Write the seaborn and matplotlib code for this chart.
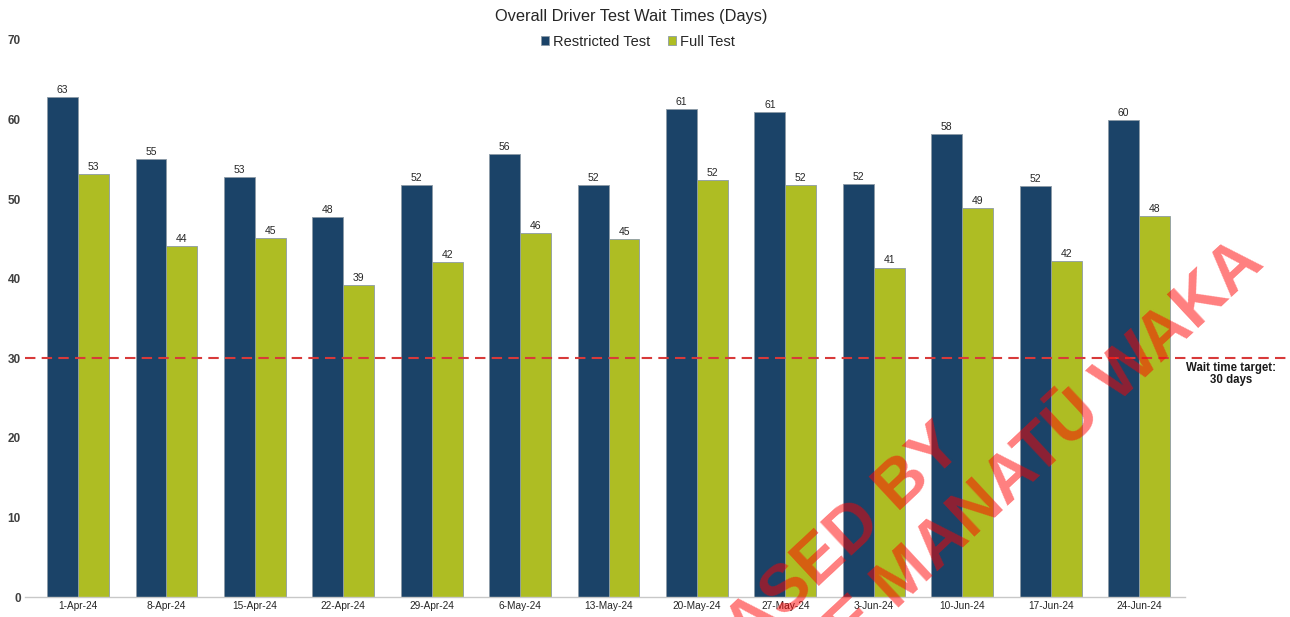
import numpy as np
import pandas as pd
import matplotlib
matplotlib.use("Agg")
import matplotlib.pyplot as plt
import seaborn as sns

weeks = ["1-Apr-24", "8-Apr-24", "15-Apr-24", "22-Apr-24", "29-Apr-24", "6-May-24",
         "13-May-24", "20-May-24", "27-May-24", "3-Jun-24", "10-Jun-24", "17-Jun-24", "24-Jun-24"]
restricted = [62.8, 55.0, 52.8, 47.7, 51.8, 55.7, 51.8, 61.3, 60.9, 51.9, 58.2, 51.6, 59.9]
full = [53.1, 44.1, 45.1, 39.2, 42.1, 45.7, 45.0, 52.4, 51.8, 41.4, 48.9, 42.2, 47.9]
series_names = ["Restricted Test", "Full Test"]
target = 30
y_ticks = [0, 10, 20, 30, 40, 50, 60, 70]

df = pd.DataFrame({
    "week": weeks * 2,
    "series": [series_names[0]] * len(weeks) + [series_names[1]] * len(weeks),
    "days": restricted + full,
})

sns.set_theme(style="white")
plt.rcParams["font.family"] = ["Liberation Sans", "DejaVu Sans"]

W, H = 1290, 617
fig = plt.figure(figsize=(W / 100, H / 100), dpi=100)
ax = fig.add_axes([25 / W, 1 - 597 / H, 1160 / W, 557 / H])

palette = {"Restricted Test": "#1b4368", "Full Test": "#aebd23"}
sns.barplot(data=df, x="week", y="days", hue="series", order=weeks,
            hue_order=series_names, palette=palette, width=0.7, gap=0,
            edgecolor="#8c9ba6", linewidth=0.6, saturation=1, ax=ax, legend=True)

for cont in ax.containers:
    ax.bar_label(cont, fmt="%.0f", padding=1.5, fontsize=7.5, color="#262626")

ax.set_ylim(0, 70)
ax.set_xlim(-0.6, 12.52)
ax.set_yticks(y_ticks)
ax.set_yticklabels([str(t) for t in y_ticks], fontsize=8.5, fontweight="bold", color="#404040")
ax.tick_params(axis="y", length=0, pad=3)
ax.tick_params(axis="x", length=0, pad=3, labelsize=7.3, labelcolor="#262626")
ax.set_xlabel("")
ax.set_ylabel("")
for s in ["left", "right", "top"]:
    ax.spines[s].set_visible(False)
ax.spines["bottom"].set_color("#c8c8c8")
ax.spines["bottom"].set_linewidth(1)

# target line extending beyond the axes
ax.axhline(target, xmin=0, xmax=(1287 - 25) / 1160, color="#d83a3a", lw=1.5,
           ls=(0, (5, 3)), clip_on=False, zorder=5)
ax.text((1231 - 25) / 1160, 28.0, "Wait time target:\n30 days", transform=ax.get_yaxis_transform(),
        ha="center", va="center", fontsize=8.3, fontweight="bold", color="#1a1a1a",
        linespacing=1.05, clip_on=False)

# title and legend
fig.text(631 / W, 1 - 17 / H, "Overall Driver Test Wait Times (Days)", ha="center", va="center",
         fontsize=11.8, color="#262626")
handles, labels = ax.get_legend_handles_labels()
ax.get_legend().remove()
fig.legend(handles, labels, loc="center", bbox_to_anchor=(638 / W, 1 - 42 / H), ncol=2,
           frameon=False, fontsize=10.5, handlelength=0.55, handleheight=0.55, handletextpad=0.3,
           columnspacing=1.2, labelcolor="#262626")

# watermark stamp
wm_kw = dict(rotation=43, rotation_mode="anchor", ha="right", va="baseline",
             fontsize=48, fontweight="bold", color="red", alpha=0.5, zorder=20)
fig.text(965.6 / W, 1 - 449.7 / H, "RELEASED BY", **wm_kw)
fig.text(1266 / W, 1 - 265 / H, "TE MANATŪ WAKA", **wm_kw)

fig.savefig("out.png", dpi=100)
